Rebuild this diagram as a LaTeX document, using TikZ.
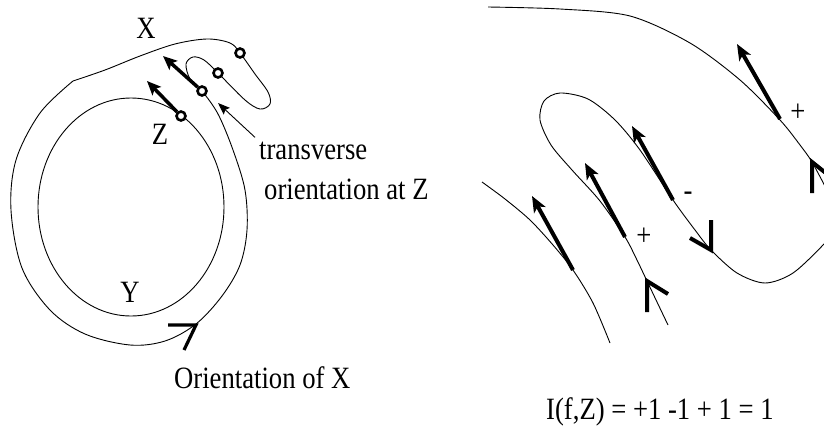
\documentclass[tikz,border=0pt]{standalone}
\usepackage{fontspec}
\setmainfont[FakeStretch=0.86]{Liberation Serif}
\usetikzlibrary{arrows.meta}

\tikzset{
	hairline/.style={line width=0.9pt, line join=round},
	lvec/.style={line width=3.5pt, -{Stealth[length=14pt,width=12pt,inset=3pt]}},
	rvec/.style={line width=4pt, -{Stealth[length=16pt,width=13pt,inset=4pt]}},
	pointer/.style={line width=0.9pt, -{Stealth[length=12pt,width=9pt,inset=2pt]}},
	ringdot/.style={draw, circle, line width=2.6pt, fill=white, minimum size=9pt, inner sep=0pt},
	chev/.style={line width=#1, line join=miter},
	lbl/.style={font=\fontsize{31}{36}\selectfont, inner sep=0pt},
}

\begin{document}
\begin{tikzpicture}[x=1pt,y=-1pt]
	\useasboundingbox (0,0) rectangle (824,426);
	\clip (0,0) rectangle (824,426);

	% left: Y inside X
	\draw[hairline] (131,207) ellipse [x radius=93, y radius=109];
	\draw[hairline] plot[smooth, tension=0.55] coordinates {(73,81) (105,70) (140,56) (175,44) (207,39) (230,43) (240,53) (255,74) (268,92) (270,104) (260,109) (245,100) (218,73) (204,60) (193,57) (186,64) (190,79) (202,91) (218,114) (233,150) (245,190) (247,230) (240,265) (222,296) (196,324) (165,341) (130,345) (85,334) (50,310) (22,268) (11,210) (16,160) (40,113) (73,81)};

	\coordinate (tz) at (147,81);
	\coordinate (t2) at (163,56);
	\node[ringdot] (z) at (181,116) {};
	\node[ringdot] (m2) at (202,91) {};
	\node[ringdot] (m3) at (218,73) {};
	\node[ringdot] (m4) at (240,53) {};
	\draw[lvec] (z) -- (tz);
	\draw[lvec] (m2) -- (t2);

	\node[lbl, anchor=base] (lx) at (146,38) {X};
	\node[lbl, anchor=base] (lz) at (160,144) {Z};
	\node[lbl, anchor=base] (ly) at (130,302) {Y};

	\node[lbl, anchor=base west] (trans) at (259,159) {transverse};
	\node[lbl, anchor=base west] (orz) at (264,199) {orientation at Z};
	\coordinate (pt) at (218,103);
	\draw[pointer] ([shift={(-4,-4)}]trans.north west) -- (pt);

	\draw[chev=3.2pt] (168,325) -- (196,325) -- (184,350);
	\node[lbl, anchor=base west] (orx) at (174,388) {Orientation of X};

	% right: crossings of f with Z
	\draw[hairline] plot[smooth] coordinates {(488,7) (560,9) (630,16) (690,43) (740,80) (780,120) (800,145) (812,162) (828,192)};
	\draw[hairline] plot[smooth] coordinates {(668,325) (657,302) (647,281) (636,258) (625,237) (600,201) (572,170) (551,145) (540,120) (544,101) (560,93) (588,99) (615,120) (640,150) (673,200) (695,230) (711,250) (737,273) (765,283) (793,273) (824,244) (836,228)};
	\draw[hairline] plot[smooth] coordinates {(482,182) (505,199) (530,220) (553,245) (573,270) (593,303) (610,343)};

	\coordinate (a1) at (573,270);
	\coordinate (b1) at (532,196);
	\coordinate (a2) at (625,237);
	\coordinate (b2) at (585,163);
	\coordinate (a3) at (673,200);
	\coordinate (b3) at (632,126);
	\coordinate (a4) at (780,119);
	\coordinate (b4) at (737,44);
	\draw[rvec] (a1) -- (b1);
	\draw[rvec] (a2) -- (b2);
	\draw[rvec] (a3) -- (b3);
	\draw[rvec] (a4) -- (b4);

	\node[lbl] (s2) at (644,237) {+};
	\node[lbl, anchor=base] (s3) at (688,200) {-};
	\node[lbl] (s4) at (798,113) {+};

	\draw[chev=4pt] (647,312) -- (647,281) -- (668,294);
	\draw[chev=4pt] (711,220) -- (711,250) -- (690,238);
	\draw[chev=4pt] (812,193) -- (812,162) -- (832,178);

	\node[lbl, anchor=base west] (idx) at (546,419) {I(f,Z) = +1 -1 + 1 = 1};
\end{tikzpicture}
\end{document}
